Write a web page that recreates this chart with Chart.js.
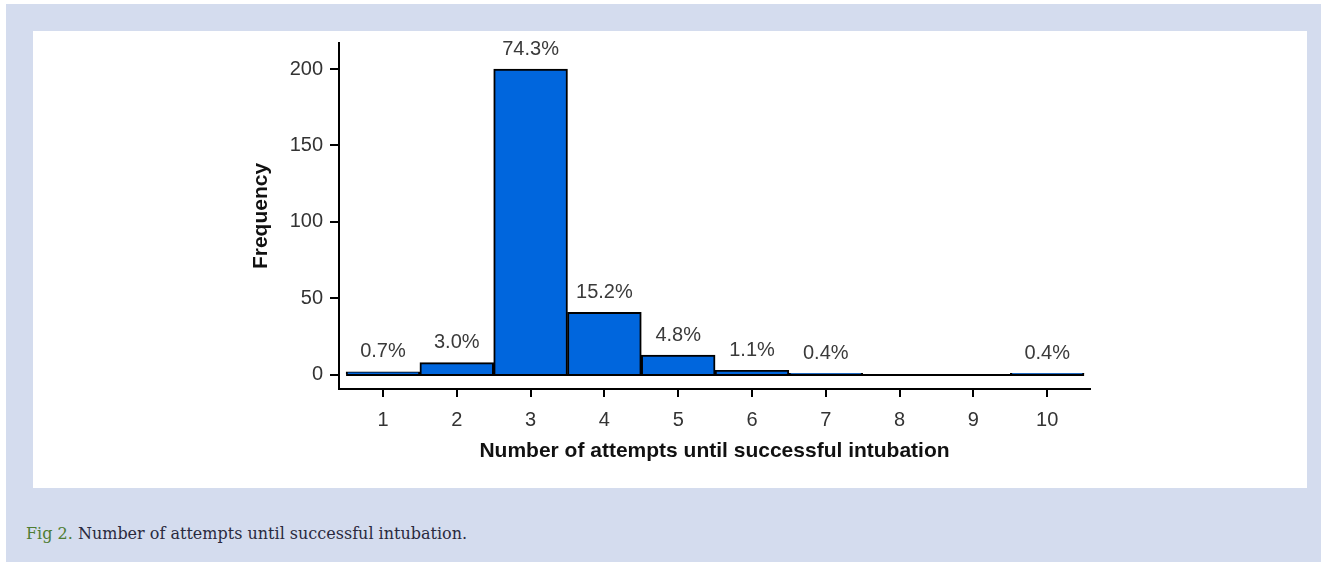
<!DOCTYPE html>
<html>
<head>
<meta charset="utf-8">
<script src="https://cdn.jsdelivr.net/npm/chart.js@4.4.1/dist/chart.umd.min.js"></script>
<style>
  html, body { margin: 0; padding: 0; background: #fff; }
  #frame { position: absolute; left: 6px; top: 4px; width: 1315px; height: 558px; background: #d4dcee; }
  #panel { position: absolute; left: 33px; top: 31px; width: 1274px; height: 457px; background: #fff; }
  #caption { position: absolute; left: 26px; top: 524px; font-family: "DejaVu Serif", "Liberation Serif", serif; font-size: 16px; color: #2a2a3e; }
  #caption b { font-weight: normal; color: #4f7d32; }
  #wrap { position: absolute; left: 0; top: 0; width: 1321px; height: 562px; }
</style>
</head>
<body>
<div id="frame"></div>
<div id="panel"></div>
<div id="caption"><b>Fig 2.</b> Number of attempts until successful intubation.</div>
<div id="wrap"><canvas id="chart" width="1321" height="562"></canvas></div>
<script>
// attempts until successful intubation (histogram)
const attempts = [1, 2, 3, 4, 5, 6, 7, 8, 9, 10];
const frequency = [2, 8, 200, 41, 13, 3, 1, 0, 0, 1];
const percentLabels = ['0.7%', '3.0%', '74.3%', '15.2%', '4.8%', '1.1%', '0.4%', '', '', '0.4%'];
const yTicks = [0, 50, 100, 150, 200];

const font = '"Liberation Sans", Arial, sans-serif';

// draws the baseline at 0 and the percentage over each bar
const barLabels = {
  id: 'barLabels',
  afterDatasetsDraw(chart) {
    const ctx = chart.ctx;
    const x = chart.scales.x, y = chart.scales.y;
    ctx.save();
    ctx.strokeStyle = '#000';
    ctx.lineWidth = 2;
    ctx.beginPath();
    ctx.moveTo(x.getPixelForValue(0.5), y.getPixelForValue(0));
    ctx.lineTo(x.getPixelForValue(10.5), y.getPixelForValue(0));
    ctx.stroke();
    ctx.fillStyle = '#3a3a3a';
    ctx.font = '20px ' + font;
    ctx.textAlign = 'center';
    ctx.textBaseline = 'middle';
    attempts.forEach((a, i) => {
      if (!percentLabels[i]) return;
      ctx.fillText(percentLabels[i], x.getPixelForValue(a), y.getPixelForValue(frequency[i]) - 20);
    });
    ctx.restore();
  }
};

new Chart(document.getElementById('chart'), {
  type: 'bar',
  data: {
    datasets: [{
      data: attempts.map((a, i) => ({ x: a, y: frequency[i] })),
      backgroundColor: '#0066dd',
      borderColor: '#000',
      borderWidth: 2,
      borderSkipped: 'bottom',
      barPercentage: 1,
      categoryPercentage: 1
    }]
  },
  options: {
    responsive: false,
    animation: false,
    layout: { padding: { left: 245, right: 231, top: 43, bottom: 94 } },
    plugins: { legend: { display: false }, tooltip: { enabled: false } },
    scales: {
      x: {
        type: 'linear',
        offset: false,
        min: 0.404,
        max: 10.58,
        afterBuildTicks: s => { s.ticks = attempts.map(v => ({ value: v })); },
        afterFit: s => { s.height = 79; },
        grid: { offset: false, drawOnChartArea: false, drawTicks: true, tickLength: 8, color: '#000', lineWidth: 2 },
        border: { display: true, color: '#000', width: 2 },
        ticks: { color: '#333', font: { family: font, size: 20 }, padding: 11, maxRotation: 0 },
        title: { display: true, text: 'Number of attempts until successful intubation', color: '#111',
          font: { family: font, size: 21, weight: 'bold' }, padding: 4 }
      },
      y: {
        min: -9.2,
        max: 217,
        afterBuildTicks: s => { s.ticks = yTicks.map(v => ({ value: v })); },
        afterFit: s => { s.width = 94; },
        grid: { drawOnChartArea: false, drawTicks: true, tickLength: 9, color: '#000', lineWidth: 2 },
        border: { display: true, color: '#000', width: 2 },
        ticks: { color: '#333', font: { family: font, size: 20 }, padding: 7 },
        title: { display: true, text: 'Frequency', color: '#111',
          font: { family: font, size: 21, weight: 'bold' }, padding: 4 }
      }
    }
  },
  plugins: [barLabels]
});
</script>
</body>
</html>
